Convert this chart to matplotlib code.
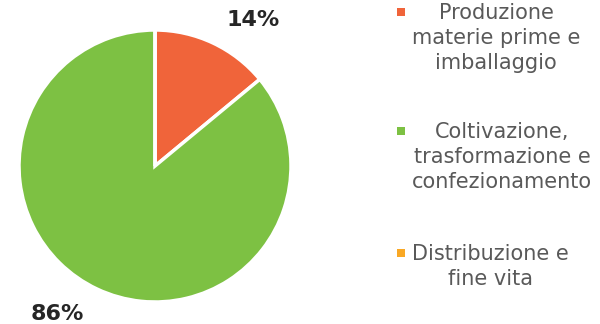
import matplotlib.pyplot as plt
import numpy as np

# Quote di impatto per fase
categorie = ["Produzione\nmaterie prime e\nimballaggio",
             "Coltivazione,\ntrasformazione e\nconfezionamento",
             "Distribuzione e\nfine vita"]
valori = [14, 86, 0]
colori = ["#F0643A", "#7DC143", "#F9A825"]

plt.rcParams['font.family'] = 'DejaVu Sans'

fig = plt.figure(figsize=(6.0, 3.24), dpi=100)

# Torta: centro (155, 165) px, raggio 136 px
ax = fig.add_axes([19 / 600, 22 / 324, 272 / 600, 272 / 324])
wedges, _ = ax.pie(valori, colors=colori, startangle=90, counterclock=False,
                   wedgeprops=dict(edgecolor='white', linewidth=2.5))
ax.set_xlim(-1, 1)
ax.set_ylim(-1, 1)
ax.set_aspect('equal')
ax.axis('off')

# Etichette percentuali fuori dalla torta
for w, v in zip(wedges, valori):
    if v == 0:
        continue
    mid = np.deg2rad((w.theta1 + w.theta2) / 2 - 8.5)
    ax.text(1.3 * np.cos(mid), 1.3 * np.sin(mid) - 0.005, f"{v}%",
            ha='center', va='center', fontsize=16, fontweight='bold',
            color='#262626')

# Legenda disegnata a mano (pixel)
lax = fig.add_axes([0, 0, 1, 1])
lax.set_xlim(0, 600)
lax.set_ylim(324, 0)
lax.axis('off')
righe_y = [12, 131, 253]
for nome, col, y in zip(categorie, colori, righe_y):
    lax.scatter([401], [y], marker='s', s=30, color=col, linewidths=0)
    lax.text(412, y - 9, nome, ha='left', va='top', multialignment='center',
             fontsize=15, color='#595959', linespacing=1.3)

fig.savefig("out.png", dpi=100)
